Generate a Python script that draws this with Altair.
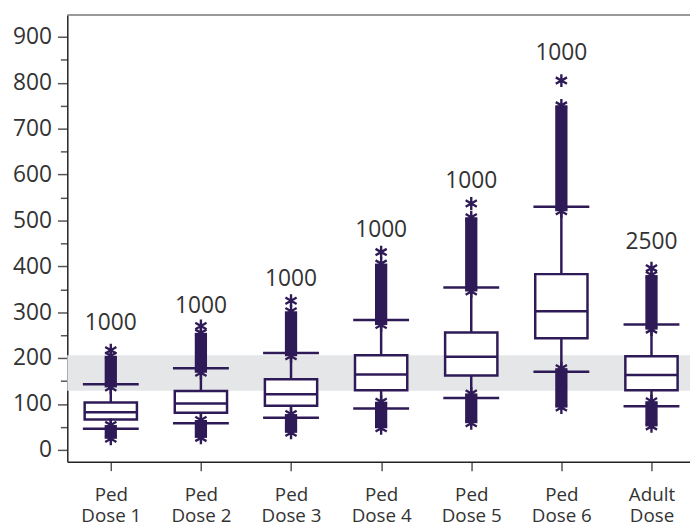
import altair as alt
import pandas as pd

# ---- data ----
categories = ["Ped Dose 1", "Ped Dose 2", "Ped Dose 3", "Ped Dose 4",
              "Ped Dose 5", "Ped Dose 6", "Adult Dose"]
label_lines = [["Ped", "Dose 1"], ["Ped", "Dose 2"], ["Ped", "Dose 3"],
               ["Ped", "Dose 4"], ["Ped", "Dose 5"], ["Ped", "Dose 6"],
               ["Adult", "Dose"]]
n_sims = ["1000", "1000", "1000", "1000", "1000", "1000", "2500"]
q1 = [66, 81, 96, 130, 162, 243, 130]
median = [82, 101, 121, 164, 203, 302, 163]
q3 = [103, 128, 154, 206, 256, 383, 204]
whisker_lo = [46, 58, 70, 90, 113, 170, 95]
whisker_hi = [143, 178, 211, 283, 354, 530, 273]
upper_dense_lo = [136, 168, 204, 272, 345, 520, 262]
upper_dense_hi = [205, 255, 302, 406, 507, 751, 381]
upper_max = [217, 270, 325, 431, 537, 805, 396]
lower_dense_hi = [54, 65, 78, 105, 123, 178, 106]
lower_dense_lo = [24, 26, 37, 47, 58, 92, 51]
label_y = [276, 313, 372, 478, 586, 866, 453]
target_range = [129, 206]

y_ticks = list(range(0, 901, 50))

PURPLE = "#2e1a56"
TXT = "#333333"
W, H = 630, 452

df = pd.DataFrame({
    "idx": list(range(len(categories))),
    "cat": categories,
    "q1": q1, "median": median, "q3": q3,
    "wlo": whisker_lo, "whi": whisker_hi,
    "udlo": upper_dense_lo, "udhi": upper_dense_hi,
    "ldlo": lower_dense_lo, "ldhi": lower_dense_hi,
    "ly": label_y, "n": n_sims,
})

stars = pd.DataFrame({
    "idx": [i for i in range(len(categories)) for _ in range(5)],
    "val": [v for i in range(len(categories)) for v in
            (upper_max[i], upper_dense_hi[i], upper_dense_lo[i],
             lower_dense_hi[i], lower_dense_lo[i])],
})

band_df = pd.DataFrame({"lo": [target_range[0]], "hi": [target_range[1]]})

lines_js = "[" + ",".join("[" + ",".join("'%s'" % s for s in l) + "]" for l in label_lines) + "]"

xs = alt.Scale(domain=[-0.4826, 6.4275], nice=False, zero=False)
ys = alt.Scale(domain=[-26, 948], nice=False, zero=False)

x_axis = alt.Axis(values=list(range(len(categories))), labelExpr=lines_js + "[datum.value]",
                  tickSize=9, tickColor="#555555", tickWidth=1.5, domainColor="#222222",
                  domainWidth=1.5, labelFont="Open Sans", labelFontSize=19, labelColor=TXT,
                  labelPadding=15, labelLineHeight=21, grid=False, title=None,
                  labelAngle=0, labelOverlap=False, labelFlush=False)
y_axis = alt.Axis(values=y_ticks, labelExpr="datum.value % 100 === 0 ? datum.label : ''",
                  tickSize={"condition": {"test": "datum.value % 100 !== 0", "value": 7}, "value": 10},
                  tickColor="#555555", tickWidth=1.5, domainColor="#222222", domainWidth=1.5,
                  labelFont="Open Sans", labelFontSize=23, labelColor=TXT, labelPadding=6,
                  grid=False, title=None, labelOverlap=False, labelFlush=False)

base = alt.Chart(df).transform_calculate(
    bl="datum.idx - 0.29", br="datum.idx + 0.29",
    cl="datum.idx - 0.31", cr="datum.idx + 0.31",
    dl="datum.idx - 0.068", dr="datum.idx + 0.068",
)

band = alt.Chart(band_df).mark_rect(color="#e5e6e8").encode(
    x=alt.value(0), x2=alt.value(W),
    y=alt.Y("lo:Q", scale=ys, axis=y_axis), y2="hi:Q",
)

top_line = alt.Chart(band_df).mark_rule(color="#777777", strokeWidth=1.5).encode(
    x=alt.value(0), x2=alt.value(W), y=alt.value(0),
)

whisk_low = base.mark_rule(color=PURPLE, strokeWidth=2.5).encode(
    x=alt.X("idx:Q", scale=xs, axis=x_axis),
    y=alt.Y("wlo:Q", scale=ys, axis=y_axis), y2="q1:Q",
)
whisk_high = base.mark_rule(color=PURPLE, strokeWidth=2.5).encode(
    x=alt.X("idx:Q", scale=xs, axis=x_axis),
    y=alt.Y("q3:Q", scale=ys, axis=y_axis), y2="whi:Q",
)

dense_up = base.mark_rect(color=PURPLE).encode(
    x=alt.X("dl:Q", scale=xs, axis=x_axis), x2="dr:Q",
    y=alt.Y("udlo:Q", scale=ys, axis=y_axis), y2="udhi:Q",
)
dense_low = base.mark_rect(color=PURPLE).encode(
    x=alt.X("dl:Q", scale=xs, axis=x_axis), x2="dr:Q",
    y=alt.Y("ldlo:Q", scale=ys, axis=y_axis), y2="ldhi:Q",
)

cap_low = base.mark_rule(color=PURPLE, strokeWidth=2.5).encode(
    x=alt.X("cl:Q", scale=xs, axis=x_axis), x2="cr:Q",
    y=alt.Y("wlo:Q", scale=ys, axis=y_axis),
)
cap_high = base.mark_rule(color=PURPLE, strokeWidth=2.5).encode(
    x=alt.X("cl:Q", scale=xs, axis=x_axis), x2="cr:Q",
    y=alt.Y("whi:Q", scale=ys, axis=y_axis),
)

box = base.mark_rect(fill="white", stroke=PURPLE, strokeWidth=2.5).encode(
    x=alt.X("bl:Q", scale=xs, axis=x_axis), x2="br:Q",
    y=alt.Y("q1:Q", scale=ys, axis=y_axis), y2="q3:Q",
)
med = base.mark_rule(color=PURPLE, strokeWidth=2.5).encode(
    x=alt.X("bl:Q", scale=xs, axis=x_axis), x2="br:Q",
    y=alt.Y("median:Q", scale=ys, axis=y_axis),
)

asterisk = "M0,-1L0,1M-0.87,-0.5L0.87,0.5M-0.87,0.5L0.87,-0.5"
star_layer = alt.Chart(stars).mark_point(
    shape=asterisk, size=170, filled=False, stroke=PURPLE, strokeWidth=2.4, opacity=1
).encode(
    x=alt.X("idx:Q", scale=xs, axis=x_axis),
    y=alt.Y("val:Q", scale=ys, axis=y_axis),
)

labels = base.mark_text(font="Open Sans", fontSize=23, color=TXT, baseline="middle").encode(
    x=alt.X("idx:Q", scale=xs, axis=x_axis),
    y=alt.Y("ly:Q", scale=ys, axis=y_axis),
    text="n:N",
)

chart = alt.layer(
    band, top_line, whisk_low, whisk_high, dense_up, dense_low,
    cap_low, cap_high, box, med, star_layer, labels
).properties(
    width=W, height=H,
    autosize=alt.AutoSizeParams(type="none"),
    padding={"left": 60, "top": 4, "right": 0, "bottom": 66},
).configure_view(stroke=None)

chart.save("out.html", embed_options={"renderer": "svg", "actions": False})
